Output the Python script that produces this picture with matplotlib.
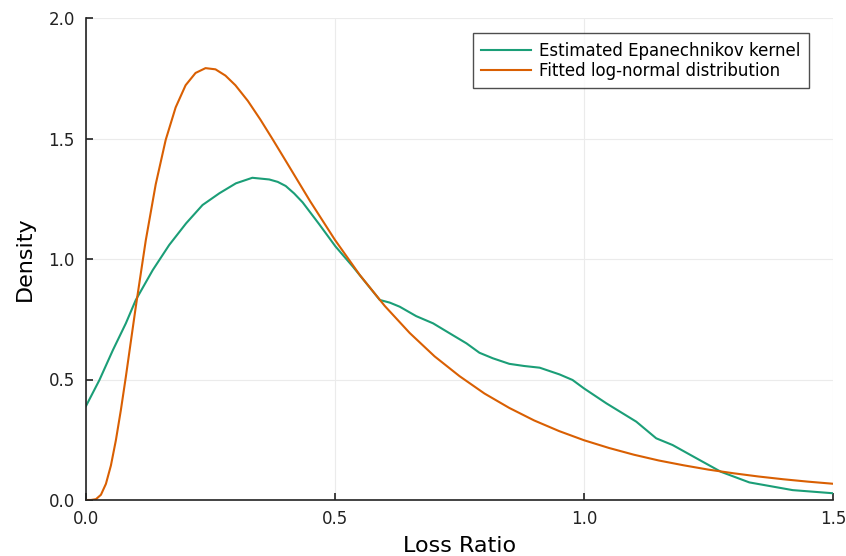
import matplotlib
matplotlib.use("Agg")
import matplotlib.pyplot as plt

# Estimated Epanechnikov kernel density
kde_x = [0.0, 0.027, 0.054, 0.080, 0.100, 0.134, 0.167, 0.201, 0.234, 0.268,
         0.301, 0.334, 0.368, 0.385, 0.401, 0.418, 0.435, 0.468, 0.501, 0.536,
         0.563, 0.590, 0.610, 0.630, 0.663, 0.697, 0.730, 0.764, 0.790, 0.817,
         0.850, 0.880, 0.911, 0.951, 0.977, 1.000, 1.045, 1.105, 1.145, 1.178,
         1.232, 1.275, 1.332, 1.419, 1.500]
kde_y = [0.390, 0.498, 0.622, 0.733, 0.830, 0.954, 1.058, 1.148, 1.224, 1.273,
         1.314, 1.337, 1.330, 1.320, 1.303, 1.272, 1.235, 1.145, 1.052, 0.968,
         0.899, 0.830, 0.819, 0.802, 0.763, 0.733, 0.692, 0.650, 0.611, 0.588,
         0.565, 0.556, 0.549, 0.521, 0.498, 0.463, 0.401, 0.325, 0.256, 0.228,
         0.166, 0.117, 0.073, 0.041, 0.028]

# Fitted log-normal distribution
ln_x = [0.0, 0.01, 0.02, 0.03, 0.04, 0.05, 0.06, 0.07, 0.08, 0.09, 0.10,
        0.12, 0.14, 0.16, 0.18, 0.20, 0.22, 0.24, 0.26, 0.28, 0.30, 0.325,
        0.35, 0.375, 0.40, 0.45, 0.50, 0.55, 0.60, 0.65, 0.70, 0.75, 0.80,
        0.85, 0.90, 0.95, 1.00, 1.05, 1.10, 1.15, 1.20, 1.25, 1.30, 1.35,
        1.40, 1.45, 1.50]
ln_y = [0.0, 0.0001, 0.0034, 0.0217, 0.067, 0.143, 0.248, 0.373, 0.511, 0.657, 0.802,
        1.077, 1.310, 1.494, 1.629, 1.721, 1.772, 1.792, 1.787, 1.761, 1.721, 1.656,
        1.579, 1.496, 1.411, 1.240, 1.079, 0.933, 0.805, 0.693, 0.596, 0.514, 0.442,
        0.382, 0.330, 0.286, 0.248, 0.216, 0.188, 0.164, 0.144, 0.126, 0.111, 0.0976,
        0.0861, 0.0761, 0.0674]

x_ticks = [0.0, 0.5, 1.0, 1.5]
y_ticks = [0.0, 0.5, 1.0, 1.5, 2.0]

fig = plt.figure(figsize=(8.46, 5.56), dpi=100)
ax = fig.add_axes([86/846, 1 - 500/556, (833 - 86)/846, (500 - 18)/556])

ax.plot(kde_x, kde_y, color="#1b9e77", lw=1.5, label="Estimated Epanechnikov kernel")
ax.plot(ln_x, ln_y, color="#d95f02", lw=1.5, label="Fitted log-normal distribution")

ax.set_xlim(0, 1.5)
ax.set_ylim(0, 2.0)
ax.set_xticks(x_ticks)
ax.set_yticks(y_ticks)
ax.set_xticklabels([f"{v:.1f}" for v in x_ticks])
ax.set_yticklabels([f"{v:.1f}" for v in y_ticks])
ax.tick_params(direction="in", length=5, width=1.2, labelsize=12, colors="#222222")
ax.tick_params(axis="x", pad=7)
ax.tick_params(axis="y", pad=8)
ax.grid(True, color="#ebebeb", lw=0.8)
ax.set_axisbelow(True)
for s in ["top", "right"]:
    ax.spines[s].set_visible(False)
for s in ["left", "bottom"]:
    ax.spines[s].set_linewidth(1.2)
    ax.spines[s].set_color("#222222")

ax.set_xlabel("Loss Ratio", fontsize=16, labelpad=6)
ax.set_ylabel("Density", fontsize=16, labelpad=10)

leg = ax.legend(loc="upper right", bbox_to_anchor=(0.968, 0.968), borderaxespad=0,
                fontsize=12, frameon=True, fancybox=False, edgecolor="#222222",
                borderpad=0.5, handlelength=3.0, labelspacing=0.12, handletextpad=0.5)
leg.get_frame().set_linewidth(1.0)

fig.savefig("out.png", dpi=100)
